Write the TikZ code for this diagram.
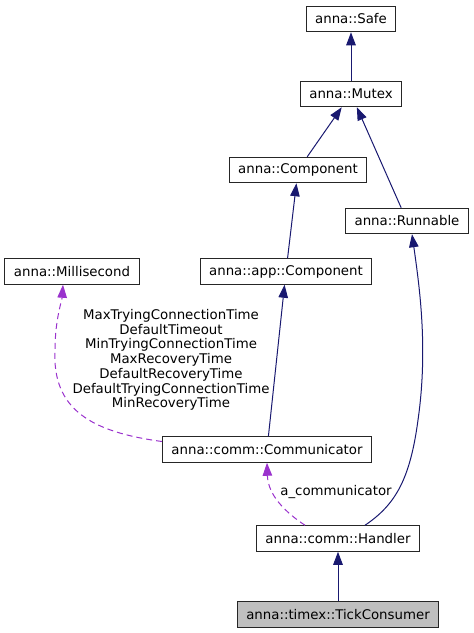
\documentclass[tikz,border=0pt]{standalone}
\usepackage{fontspec}
\setmainfont{DejaVu Sans}
\usetikzlibrary{arrows.meta,calc}
\definecolor{edgeblue}{RGB}{25,25,112}
\definecolor{edgepurple}{RGB}{154,50,205}

\begin{document}
\begin{tikzpicture}[->,>={Triangle[length=13pt,width=9.5pt]},x=1pt,y=-1pt,
  line width=1pt,
  class node/.style={rectangle,draw=black!85,fill=white,inner xsep=9pt,inner ysep=0pt,
    minimum height=25.5pt,font=\fontsize{13.33}{14.7}\selectfont},
  member/.style={font=\fontsize{13.33}{14.7}\selectfont,align=center,inner sep=0pt},
  derive/.style={edgeblue},
  uses/.style={edgepurple,dash pattern=on 6pt off 4pt}]
\useasboundingbox (0,0) rectangle (474,633);

\node[class node](Safe) at (351,19) {anna::Safe};
\node[class node](Mutex) at (351,94) {anna::Mutex};
\node[class node](Comp) at (298,170) {anna::Component};
\node[class node](Run) at (407,221) {anna::Runnable};
\node[class node](Milli) at (72,271.5) {anna::Millisecond};
\node[class node](AppComp) at (286,271.5) {anna::app::Component};
\node[class node](Comm) at (267,449.5) {anna::comm::Communicator};
\node[class node](Hand) at (338,538.5) {anna::comm::Handler};
\node[class node,fill=black!25](Tick) at (338,614.5) {anna::timex::TickConsumer};
\node[member](MsVars) at (171,360) {MaxTryingConnectionTime\\DefaultTimeout\\MinTryingConnectionTime\\MaxRecoveryTime\\DefaultRecoveryTime\\DefaultTryingConnectionTime\\MinRecoveryTime};
\node[member](CommVar) at (336,492) {a\_communicator};

\path
(Mutex) edge[derive] (Safe)
(Comp) edge[derive] (Mutex)
(Run) edge[derive] (Mutex)
(AppComp) edge[derive] (Comp)
(Comm) edge[derive] (AppComp)
(Tick) edge[derive] (Hand);

\draw[derive] ($(Hand.north)+(27,0)$) .. controls (395,505) and (410,480) .. (418,420)
  .. controls (428,350) and (420,290) .. ($(Run.south)+(5,0)$);
\draw[uses] ($(Hand.north)+(-33,0)$) .. controls (285,512) and (268,495) .. (Comm.south);
\draw[uses] ($(Comm.west)+(0,-8)$) .. controls (92,432) and (52,410) .. (55,350)
  .. controls (55,320) and (62,300) .. ($(Milli.south)+(-9,0)$);

\end{tikzpicture}
\end{document}
